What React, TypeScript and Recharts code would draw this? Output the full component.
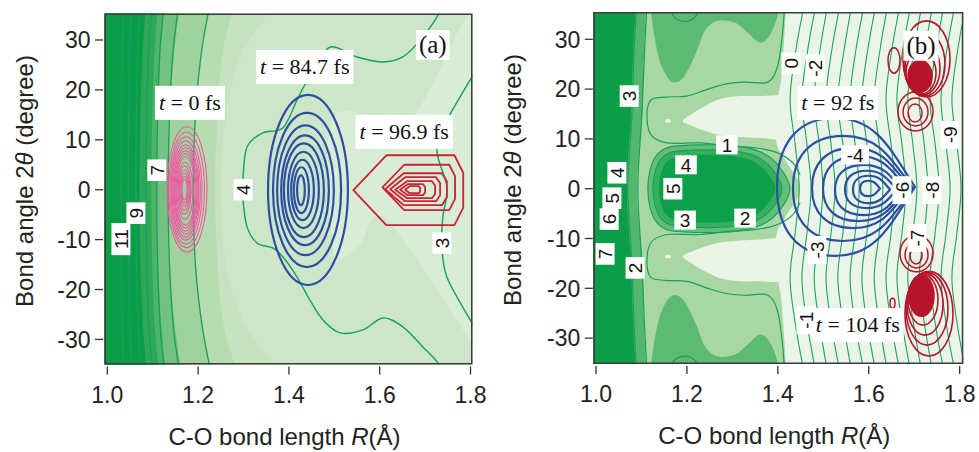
import React from "react";
import { ScatterChart, Scatter, XAxis, YAxis } from "recharts";

type XY = { x: number; y: number };

const SANS = '"Liberation Sans", Arial, Helvetica, sans-serif';
const SERIF = '"Liberation Serif", "Times New Roman", serif';
const INK = "#222";
const LINE_GREEN = "#17a15b";
const BLUE = "#2c4fa3";
const RED_A = "#cc2236";
const RED_B = "#b8142c";
const PINK = "#ef5aa0";

// axes
const R_TICKS = [1.0, 1.2, 1.4, 1.6, 1.8];
const THETA_TICKS = [-30, -20, -10, 0, 10, 20, 30];
// bond angles at which the near-vertical contours were read
const EDGE_THETA = [40, 28, 15, 0, -15, -28, -40];
const SIDE_THETA = [37, 28, 18, 9, 0, -9, -18, -28, -37];

// ---------- panel (a) ----------
// R of each filled level boundary at EDGE_THETA, outermost (lightest) first
const bandEdgesA = [
  [1.40, 1.30, 1.262, 1.25, 1.262, 1.31, 1.42],
  [1.29, 1.255, 1.243, 1.237, 1.243, 1.258, 1.3],
  [1.235, 1.21, 1.196, 1.192, 1.196, 1.212, 1.24],
  [1.165, 1.148, 1.138, 1.134, 1.138, 1.15, 1.17],
  [1.13, 1.118, 1.111, 1.109, 1.111, 1.12, 1.133],
  [1.115, 1.104, 1.099, 1.097, 1.099, 1.105, 1.118],
  [1.088, 1.078, 1.073, 1.071, 1.073, 1.079, 1.09],
];
const lightPatchA = [
  [1.497, 14.4], [1.667, 14.4], [1.821, 34.0], [1.821, -32.1], [1.803, -30.7],
  [1.616, -6.1], [1.557, -11.1], [1.519, -13.7], [1.497, -12.1],
];
// contour lines 11 .. 5 at EDGE_THETA
const levelLinesA = [
  [1.038, 1.033, 1.031, 1.03, 1.031, 1.033, 1.039],
  [1.055, 1.049, 1.047, 1.046, 1.047, 1.05, 1.056],
  [1.075, 1.067, 1.064, 1.063, 1.064, 1.068, 1.076],
  [1.102, 1.091, 1.087, 1.085, 1.087, 1.092, 1.104],
  [1.128, 1.116, 1.111, 1.109, 1.111, 1.117, 1.13],
  [1.162, 1.145, 1.137, 1.134, 1.137, 1.146, 1.165],
  [1.232, 1.208, 1.194, 1.189, 1.194, 1.21, 1.236],
];
const contour4A = [
  [1.735, 37], [1.726, 34.6], [1.689, 30.0], [1.651, 26.6], [1.607, 25.6], [1.55, 26.6],
  [1.491, 28.6], [1.457, 24.0], [1.435, 21.0], [1.418, 18.0], [1.387, 12.4], [1.343, 11.4],
  [1.308, 8.6], [1.299, 2.5], [1.299, -2.1], [1.308, -7.5], [1.33, -10.7], [1.365, -11.7],
  [1.387, -13.5], [1.418, -17.5], [1.446, -22.1], [1.475, -26.1], [1.513, -28.7],
  [1.563, -28.1], [1.607, -25.7], [1.651, -27.5], [1.695, -31.5], [1.728, -34.7], [1.737, -37],
];
const contour3A = [
  [1.815, 25], [1.803, 22.6], [1.748, 13.9], [1.726, 7.9], [1.748, 0.5], [1.739, -5.5],
  [1.737, -10.7], [1.748, -17.5], [1.803, -26.7], [1.815, -29],
];
// wave-packet contours [R min, R max, theta min, theta max]
const pinkRingsA = [
  [1.1315, 1.2196, -12.5, 12.6], [1.135, 1.214, -11.6, 11.5], [1.138, 1.2086, -10.9, 10.6],
  [1.1405, 1.205, -10.1, 9.8], [1.1425, 1.202, -9.5, 9.0], [1.145, 1.2, -8.9, 8.4],
  [1.147, 1.1976, -8.3, 7.8], [1.149, 1.1955, -7.7, 7.2], [1.1513, 1.1932, -7.1, 6.6],
  [1.1535, 1.1888, -5.9, 5.5], [1.1557, 1.1844, -4.9, 4.8], [1.158, 1.182, -4.1, 4.0],
  [1.16, 1.18, -3.3, 3.3], [1.162, 1.178, -2.7, 2.7], [1.1645, 1.1755, -2.1, 2.1],
];
const blueRingsA = [
  [1.354, 1.53, -19.1, 19.0], [1.365, 1.515, -15.5, 15.4], [1.374, 1.499, -13.1, 12.9],
  [1.383, 1.488, -11.1, 10.9], [1.389, 1.477, -9.5, 9.3], [1.398, 1.466, -7.7, 7.6],
  [1.405, 1.455, -6.1, 6.0], [1.411, 1.444, -4.7, 4.5], [1.418, 1.435, -3.1, 2.9],
];
const redRingsA = [
  [1.542, 1.784, -7.1, 6.9], [1.606, 1.766, -4.1, 5.0], [1.612, 1.748, -3.1, 3.3],
  [1.623, 1.733, -2.3, 2.5], [1.634, 1.722, -1.7, 1.7], [1.645, 1.7, -1.1, 1.1],
  [1.656, 1.689, -0.7, 0.7],
];
const timeTagsA = [
  { x: 1.182, y: 17.4, t: "0" },
  { x: 1.435, y: 24.6, t: "84.7" },
  { x: 1.654, y: 11.6, t: "96.9" },
];
const levelTagsA = [
  { x: 1.109, y: 3.9, text: "7" },
  { x: 1.063, y: -4.7, text: "9" },
  { x: 1.03, y: -9.9, text: "11" },
  { x: 1.299, y: 0, text: "4" },
  { x: 1.737, y: -10.7, text: "3" },
];
const panelTagA = [{ x: 1.717, y: 29.0, text: "(a)" }];

// ---------- panel (b) ----------
const bandEdgesB = [
  [1.112, 1.106, 1.102, 1.09, 1.102, 1.106, 1.112],
  [1.09, 1.082, 1.077, 1.068, 1.077, 1.082, 1.09],
];
const middleLightB = [
  [1.42, 40], [1.414, 29.9], [1.407, 21.8], [1.4, 17.8], [1.396, 9.8], [1.416, 5.8], [1.449, 0],
  [1.416, -5.8], [1.396, -9.8], [1.4, -17.8], [1.407, -21.8], [1.414, -29.9], [1.42, -40],
];
const topFingerB = [
  [1.101, 38.9], [1.119, 35.9], [1.128, 30.9], [1.141, 25.4], [1.165, 21.6], [1.191, 22.2],
  [1.218, 26.8], [1.24, 31.7], [1.268, 33.7], [1.306, 33.3], [1.334, 31.3], [1.361, 29.3],
  [1.383, 30.9], [1.4, 34.9], [1.407, 38.9],
];
const bottomFingerB = [
  [1.101, -38.9], [1.119, -35.9], [1.128, -30.9], [1.141, -25.4], [1.165, -21.6], [1.191, -22.2],
  [1.218, -26.8], [1.24, -31.7], [1.268, -33.7], [1.306, -33.3], [1.334, -31.3], [1.361, -29.3],
  [1.383, -30.9], [1.4, -34.9], [1.407, -38.9],
];
const whiteTopB = [
  [1.191, 13.6], [1.211, 15.0], [1.24, 16.6], [1.273, 18.0], [1.317, 18.6], [1.361, 18.6],
  [1.405, 18.8], [1.449, 18.8], [1.449, 9.4], [1.405, 9.8], [1.361, 10.2], [1.317, 10.4],
  [1.273, 10.8], [1.24, 11.6], [1.211, 12.6],
];
const whiteBottomB = [
  [1.191, -13.6], [1.211, -15.0], [1.24, -16.6], [1.273, -18.0], [1.317, -18.6], [1.361, -18.6],
  [1.405, -18.8], [1.449, -18.8], [1.449, -9.4], [1.405, -9.8], [1.361, -10.2], [1.317, -10.4],
  [1.273, -10.8], [1.24, -11.6], [1.211, -12.6],
];
const whiteDotsB = [
  [1.152, 1.165, 13.2, 14.0],
  [1.152, 1.165, -14.0, -13.2],
];
const bulletOuterB = [
  [1.114, 0], [1.119, 3.8], [1.134, 6.8], [1.163, 8.4], [1.229, 8.8], [1.306, 8.6], [1.361, 7.4],
  [1.4, 4.8], [1.427, 0], [1.4, -4.8], [1.361, -7.4], [1.306, -8.6], [1.229, -8.8], [1.163, -8.4],
  [1.134, -6.8], [1.119, -3.8],
];
const bulletMidB = [
  [1.125, 0], [1.13, 3.4], [1.143, 6.0], [1.169, 7.4], [1.229, 7.8], [1.301, 7.6], [1.354, 6.4],
  [1.389, 3.8], [1.409, 0], [1.389, -3.8], [1.354, -6.4], [1.301, -7.6], [1.229, -7.8],
  [1.169, -7.4], [1.143, -6.0], [1.13, -3.4],
];
const bulletCoreB = [
  [1.139, 0], [1.143, 3.0], [1.154, 5.2], [1.178, 6.4], [1.229, 6.8], [1.295, 6.6], [1.343, 5.6],
  [1.374, 3.4], [1.394, 0], [1.374, -3.4], [1.343, -5.6], [1.295, -6.6], [1.229, -6.8],
  [1.178, -6.4], [1.154, -5.2], [1.143, -3.0],
];
const edgeLinesB = [
  [1.092, 1.084, 1.079, 1.07, 1.079, 1.084, 1.092],
  [1.114, 1.107, 1.101, 1.092, 1.101, 1.107, 1.114],
];
const contour1TopB = [
  [1.416, 38.9], [1.411, 31.9], [1.4, 24.8], [1.378, 21.4], [1.328, 21.4], [1.284, 21.0],
  [1.24, 19.8], [1.2, 18.6], [1.152, 18.4], [1.121, 17.8], [1.112, 14.8], [1.121, 10.8],
  [1.156, 9.2], [1.229, 9.2], [1.288, 8.6], [1.35, 8.2], [1.394, 7.4], [1.431, 5.4], [1.449, 2.8],
];
const contour1BottomB = [
  [1.416, -38.9], [1.411, -31.9], [1.4, -24.8], [1.378, -21.4], [1.328, -21.4], [1.284, -21.0],
  [1.24, -19.8], [1.2, -18.6], [1.152, -18.4], [1.121, -17.8], [1.112, -14.8], [1.121, -10.8],
  [1.156, -9.2], [1.229, -9.2], [1.288, -8.6], [1.35, -8.2], [1.394, -7.4], [1.431, -5.4], [1.449, -2.8],
];
const lobeTopB = [[1.16, 37], [1.172, 34.5], [1.196, 33.6], [1.218, 34.5], [1.23, 37]];
const lobeBottomB = [[1.16, -37], [1.172, -34.5], [1.196, -33.6], [1.218, -34.5], [1.23, -37]];
// negative-energy contours on the right, R at SIDE_THETA
const sideLinesB = [
  [1.458, 1.44, 1.427, 1.438, 1.447, 1.438, 1.427, 1.44, 1.458],
  [1.484, 1.466, 1.453, 1.464, 1.473, 1.464, 1.453, 1.466, 1.484],
  [1.51, 1.493, 1.48, 1.491, 1.499, 1.491, 1.48, 1.493, 1.51],
  [1.537, 1.519, 1.506, 1.517, 1.526, 1.517, 1.506, 1.519, 1.537],
  [1.563, 1.546, 1.532, 1.543, 1.552, 1.543, 1.532, 1.546, 1.563],
  [1.59, 1.572, 1.559, 1.57, 1.579, 1.57, 1.559, 1.572, 1.59],
  [1.616, 1.598, 1.585, 1.596, 1.605, 1.596, 1.585, 1.598, 1.616],
  [1.642, 1.625, 1.612, 1.623, 1.631, 1.623, 1.612, 1.625, 1.642],
  [1.669, 1.651, 1.638, 1.649, 1.658, 1.649, 1.638, 1.651, 1.669],
  [1.693, 1.675, 1.662, 1.673, 1.682, 1.673, 1.662, 1.675, 1.693],
  [1.717, 1.7, 1.686, 1.697, 1.706, 1.697, 1.686, 1.7, 1.717],
  [1.741, 1.724, 1.711, 1.722, 1.73, 1.722, 1.711, 1.724, 1.741],
  [1.766, 1.748, 1.735, 1.746, 1.755, 1.746, 1.735, 1.748, 1.766],
  [1.79, 1.772, 1.759, 1.77, 1.779, 1.77, 1.759, 1.772, 1.79],
  [1.814, 1.796, 1.783, 1.794, 1.803, 1.794, 1.783, 1.796, 1.814],
];
const blueRingsB = [
  [1.3982, 1.7019, -13.5, 14.2], [1.4334, 1.6975, -10.5, 10.6], [1.4752, 1.6909, -7.9, 8.2],
  [1.4994, 1.6843, -6.5, 6.6], [1.5258, 1.6754, -5.3, 4.8], [1.5478, 1.6622, -3.9, 3.6],
  [1.5654, 1.6468, -2.9, 2.6], [1.5808, 1.6248, -1.5, 1.6],
];
const redUpperB = [
  [1.6754, 1.7788, 18.4, 33.7], [1.6776, 1.7678, 18.6, 31.5], [1.6798, 1.7568, 18.8, 29.5],
  [1.682, 1.748, 19.0, 27.5], [1.6864, 1.7392, 19.4, 25.8], [1.6908, 1.7304, 19.8, 24.2],
];
const redLowerB = [
  [1.6798, 1.7854, -33.6, -16.6], [1.682, 1.7744, -31.4, -16.8], [1.6842, 1.7634, -29.4, -17.0],
  [1.6864, 1.7524, -27.4, -17.2], [1.6886, 1.7436, -25.6, -17.4], [1.6908, 1.7348, -24.0, -17.6],
];
const redSmallB = [
  [1.6644, 1.7415, 11.6, 19.4], [1.6755, 1.7305, 12.6, 18.2], [1.6865, 1.7173, 13.4, 17.0],
  [1.6424, 1.6688, 23.2, 28.3],
  [1.6688, 1.7415, -16.7, -9.3], [1.6799, 1.7305, -15.9, -10.7], [1.6909, 1.7173, -15.1, -11.9],
  [1.6468, 1.6578, -24.0, -22.0],
];
const timeTagsB = [
  { x: 1.532, y: 17.2, t: "92" },
  { x: 1.576, y: -27.4, t: "104" },
];
const levelTagsB = [
  { x: 1.073, y: 18.6, text: "3" },
  { x: 1.046, y: 3.2, text: "4" },
  { x: 1.035, y: -1.9, text: "5" },
  { x: 1.029, y: -6.1, text: "6" },
  { x: 1.02, y: -13.1, text: "7" },
  { x: 1.086, y: -15.9, text: "2" },
  { x: 1.169, y: 0, text: "5" },
  { x: 1.429, y: 25.2, text: "0" },
  { x: 1.482, y: 24.2, text: "-2" },
  { x: 1.673, y: -0.3, text: "-6" },
  { x: 1.739, y: -0.3, text: "-8" },
  { x: 1.779, y: 10.8, text: "-9" },
  { x: 1.486, y: -12.3, text: "-3" },
  { x: 1.706, y: -9.9, text: "-7" },
  { x: 1.462, y: -26.4, text: "-1" },
];
const uprightTagsB = [
  { x: 1.288, y: 8.8, text: "1" },
  { x: 1.198, y: 4.8, text: "4" },
  { x: 1.196, y: -6.3, text: "3" },
  { x: 1.328, y: -5.9, text: "2" },
  { x: 1.57, y: 6.8, text: "-4" },
];
const panelTagB = [{ x: 1.715, y: 28.7, text: "(b)" }];

// ---------- helpers ----------
const OUTSIDE = [[0.9, -45], [1.9, 45]];
const OUTSIDE_LEFT = [[0.9, -45], [0.9, 45]];

const toXY = (pairs: number[][]): XY[] => pairs.map(([x, y]) => ({ x, y }));
const edgeXY = (rs: number[], thetas: number[]): XY[] => rs.map((x, i) => ({ x, y: thetas[i] }));
const boxXY = (b: number[]): XY[] => [{ x: b[0], y: b[2] }, { x: b[1], y: b[3] }];

function spline(p: XY[], closed: boolean): string {
  const n = p.length;
  if (n < 2) return "";
  const at = (i: number) => (closed ? p[(i + n) % n] : p[Math.max(0, Math.min(n - 1, i))]);
  const f = (v: number) => v.toFixed(2);
  let d = `M${f(p[0].x)},${f(p[0].y)}`;
  const segs = closed ? n : n - 1;
  for (let i = 0; i < segs; i++) {
    const a = at(i - 1), b = at(i), c = at(i + 1), e = at(i + 2);
    d += `C${f(b.x + (c.x - a.x) / 6)},${f(b.y + (c.y - a.y) / 6)} ${f(c.x - (e.x - b.x) / 6)},${f(
      c.y - (e.y - b.y) / 6
    )} ${f(c.x)},${f(c.y)}`;
  }
  return closed ? d + "Z" : d;
}

const corners = (lp: any) => {
  const [a, b] = lp.points as XY[];
  return {
    L: Math.min(a.x, b.x),
    R: Math.max(a.x, b.x),
    T: Math.min(a.y, b.y),
    B: Math.max(a.y, b.y),
  };
};

const fillRect = (fill: string) => (lp: any) => {
  const { L, R, T, B } = corners(lp);
  return <rect x={L} y={T} width={R - L} height={B - T} fill={fill} />;
};
const frameRect = (lp: any) => {
  const { L, R, T, B } = corners(lp);
  return <rect x={L} y={T} width={R - L} height={B - T} fill="none" stroke="#3c3c3c" strokeWidth={3} />;
};
// smooth open curve, then straight back through the off-chart anchors
const fillEdge = (fill: string, anchors: number) => (lp: any) => {
  const pts: XY[] = lp.points;
  const k = pts.length - anchors;
  const d = spline(pts.slice(0, k), false) + pts.slice(k).map((q) => `L${q.x},${q.y}`).join("") + "Z";
  return <path d={d} fill={fill} />;
};
const fillBlob = (fill: string) => (lp: any) => <path d={spline(lp.points, true)} fill={fill} />;
const strokeCurve = (stroke: string, width: number, closed = false) => (lp: any) => (
  <path d={spline(lp.points, closed)} fill="none" stroke={stroke} strokeWidth={width} />
);
const ellipseRing = (stroke: string, width: number, fill = "none") => (lp: any) => {
  const { L, R, T, B } = corners(lp);
  return (
    <ellipse cx={(L + R) / 2} cy={(T + B) / 2} rx={(R - L) / 2} ry={(B - T) / 2} fill={fill} stroke={stroke} strokeWidth={width} />
  );
};
const hexRing = (stroke: string, width: number) => (lp: any) => {
  const { L, R, T, B } = corners(lp);
  const w = R - L, h = B - T, cy = (T + B) / 2;
  const p = [
    [L, cy], [L + 0.3 * w, T], [R - 0.08 * w, T], [R, cy - 0.25 * h],
    [R, cy + 0.25 * h], [R - 0.08 * w, B], [L + 0.3 * w, B],
  ];
  return <polygon points={p.map((q) => q.join(",")).join(" ")} fill="none" stroke={stroke} strokeWidth={width} strokeLinejoin="round" />;
};
const dropRing = (stroke: string, width: number) => (lp: any) => {
  const { L, R, T, B } = corners(lp);
  const w = R - L, cy = (T + B) / 2, hh = (B - T) / 2, xm = L + 0.42 * w;
  const d =
    `M${R},${cy} C${R - 0.18 * w},${cy - 0.55 * hh} ${L + 0.72 * w},${T} ${xm},${T} ` +
    `C${L + 0.14 * w},${T} ${L},${cy - 0.6 * hh} ${L},${cy} ` +
    `C${L},${cy + 0.6 * hh} ${L + 0.14 * w},${B} ${xm},${B} ` +
    `C${L + 0.72 * w},${B} ${R - 0.18 * w},${cy + 0.55 * hh} ${R},${cy} Z`;
  return <path d={d} fill="none" stroke={stroke} strokeWidth={width} strokeLinejoin="round" />;
};

const noShape = () => <g />;

const layer = (key: string, data: XY[], draw: (lp: any) => React.ReactElement) => (
  <Scatter key={key} data={data} line={draw} lineType="joint" shape={noShape} isAnimationActive={false} />
);

const sansWidth = (s: string) => [...s].reduce((w, c) => w + (c === "-" ? 0.333 : 0.556), 0);
const SERIF_W: Record<string, number> = { t: 0.278, " ": 0.25, "=": 0.564, ".": 0.25, f: 0.333, s: 0.389, "(": 0.333, ")": 0.333, a: 0.444, b: 0.5 };
const serifWidth = (s: string) => [...s].reduce((w, c) => w + (SERIF_W[c] ?? 0.5), 0);

function LevelTag({ cx, cy, text, upright }: { cx: number; cy: number; text: string; upright?: boolean }) {
  const fs = 19;
  const w = sansWidth(text) * fs + 11;
  const h = 19;
  return (
    <g transform={`translate(${cx},${cy})${upright ? "" : " rotate(-90)"}`}>
      <rect x={-w / 2} y={-h / 2} width={w} height={h} fill="#fff" />
      <text x={0} y={0} dy="0.36em" textAnchor="middle" fontSize={fs} fontFamily={SANS} fill="#111">
        {text}
      </text>
    </g>
  );
}

function TimeTag({ cx, cy, t }: { cx: number; cy: number; t: string }) {
  const fs = 22;
  const w = serifWidth(`t = ${t} fs`) * fs + 8;
  const h = 34;
  return (
    <g>
      <rect x={cx - w / 2} y={cy - h / 2} width={w} height={h} fill="#fff" />
      <text x={cx} y={cy} dy="0.33em" textAnchor="middle" fontSize={fs} fontFamily={SERIF} fill="#111">
        <tspan fontStyle="italic">t</tspan>
        {` = ${t} fs`}
      </text>
    </g>
  );
}

function PanelTag({ cx, cy, text }: { cx: number; cy: number; text: string }) {
  const fs = 25;
  const w = serifWidth(text) * fs + 6;
  const h = 30;
  return (
    <g>
      <rect x={cx - w / 2} y={cy - h / 2} width={w} height={h} fill="#fff" />
      <text x={cx} y={cy} dy="0.33em" textAnchor="middle" fontSize={fs} fontFamily={SERIF} fill="#111">
        {text}
      </text>
    </g>
  );
}

const levelTags = (key: string, data: any[], upright = false) => (
  <Scatter
    key={key}
    data={data}
    isAnimationActive={false}
    shape={(p: any) => <LevelTag cx={p.cx} cy={p.cy} text={p.payload.text} upright={upright} />}
  />
);
const timeTags = (key: string, data: any[]) => (
  <Scatter key={key} data={data} isAnimationActive={false} shape={(p: any) => <TimeTag cx={p.cx} cy={p.cy} t={p.payload.t} />} />
);
const panelTag = (key: string, data: any[]) => (
  <Scatter key={key} data={data} isAnimationActive={false} shape={(p: any) => <PanelTag cx={p.cx} cy={p.cy} text={p.payload.text} />} />
);

const XTick = (p: any) => (
  <g>
    <line x1={p.x} x2={p.x} y1={p.y - 8} y2={p.y} stroke="#333" strokeWidth={1.3} />
    <text x={p.x} y={p.y + 28} textAnchor="middle" fontSize={23} fontFamily={SANS} fill={INK}>
      {Number(p.payload.value).toFixed(1)}
    </text>
  </g>
);
const YTick = (p: any) => (
  <g>
    <line x1={p.x + 4.5} x2={p.x + 12.5} y1={p.y} y2={p.y} stroke="#333" strokeWidth={1.3} />
    <text x={p.x} y={p.y} dy="0.36em" textAnchor="end" fontSize={23} fontFamily={SANS} fill={INK}>
      {p.payload.value}
    </text>
  </g>
);
const XTitle = (p: any) => {
  const vb = p.viewBox;
  return (
    <text x={vb.x + vb.width / 2 - 4} y={vb.y + 80} textAnchor="middle" fontSize={24} fontFamily={SANS} fill={INK}>
      C-O bond length <tspan fontStyle="italic">R</tspan>(Å)
    </text>
  );
};
const YTitle = (p: any) => {
  const vb = p.viewBox;
  const x = vb.x + vb.width - 72;
  const y = vb.y + vb.height / 2 - 8;
  return (
    <text x={x} y={y} transform={`rotate(-90 ${x} ${y})`} textAnchor="middle" fontSize={24} fontFamily={SANS} fill={INK}>
      Bond angle 2<tspan fontStyle="italic">θ</tspan> (degree)
    </text>
  );
};

const BAND_COLORS_A = ["#c6e2c1", "#b7dcb2", "#9fd29d", "#74c283", "#4db468", "#2ca856", "#0b9c48"];
const BAND_COLORS_B = ["#55b76c", "#0b9d48"];

function PanelA() {
  const xDomain = [0.9938, 1.8044];
  const yDomain = [-35.03, 35.31];
  return (
    <ScatterChart width={490} height={452} margin={{ top: 13.5, right: 17.5, bottom: 0, left: 0 }}>
      <XAxis type="number" dataKey="x" domain={xDomain} allowDataOverflow ticks={R_TICKS} interval={0}
        tickSize={0} tickMargin={10} tick={XTick} axisLine={false} height={87.5} label={XTitle} />
      <YAxis type="number" dataKey="y" domain={yDomain} allowDataOverflow ticks={THETA_TICKS} interval={0}
        tickSize={0} tickMargin={14} tick={YTick} axisLine={false} width={104.5} label={YTitle} />
      {layer("baseA", toXY(OUTSIDE), fillRect("#cde6c9"))}
      {layer("lightA", toXY(lightPatchA), fillBlob("#d9ecd5"))}
      {bandEdgesA.map((e, i) =>
        layer(`bandA${i}`, [...edgeXY(e, EDGE_THETA), ...toXY(OUTSIDE_LEFT)], fillEdge(BAND_COLORS_A[i], 2))
      )}
      {levelLinesA.map((e, i) => layer(`lvlA${i}`, edgeXY(e, EDGE_THETA), strokeCurve(LINE_GREEN, 1.3)))}
      {layer("c4A", toXY(contour4A), strokeCurve(LINE_GREEN, 1.4))}
      {layer("c3A", toXY(contour3A), strokeCurve(LINE_GREEN, 1.4))}
      {pinkRingsA.map((b, i) => layer(`pinkA${i}`, boxXY(b), ellipseRing(PINK, 1.1)))}
      {blueRingsA.map((b, i) => layer(`blueA${i}`, boxXY(b), ellipseRing(BLUE, 2.2)))}
      {redRingsA.map((b, i) => layer(`redA${i}`, boxXY(b), hexRing(RED_A, 1.8)))}
      {timeTags("timesA", timeTagsA)}
      {levelTags("tagsA", levelTagsA)}
      {panelTag("panelA", panelTagA)}
      {layer("frameA", toXY([[xDomain[0], yDomain[0]], [xDomain[1], yDomain[1]]]), frameRect)}
    </ScatterChart>
  );
}

function PanelB() {
  const xDomain = [0.99406, 1.80806];
  const yDomain = [-35.2, 35.48];
  return (
    <ScatterChart width={489} height={452} margin={{ top: 12, right: 15.7, bottom: 0, left: 0 }}>
      <XAxis type="number" dataKey="x" domain={xDomain} allowDataOverflow ticks={R_TICKS} interval={0}
        tickSize={0} tickMargin={10} tick={XTick} axisLine={false} height={88} label={XTitle} />
      <YAxis type="number" dataKey="y" domain={yDomain} allowDataOverflow ticks={THETA_TICKS} interval={0}
        tickSize={0} tickMargin={13} tick={YTick} axisLine={false} width={103.3} label={YTitle} />
      {layer("baseB", toXY(OUTSIDE), fillRect("#eaf4e8"))}
      {layer("midB", [...toXY(middleLightB), ...toXY(OUTSIDE_LEFT)], fillEdge("#a8d7a4", 2))}
      {layer("fingerTopB", toXY(topFingerB), fillEdge("#5dba72", 0))}
      {layer("fingerBotB", toXY(bottomFingerB), fillEdge("#5dba72", 0))}
      {layer("whiteTopB", toXY(whiteTopB), fillBlob("#e9f4e7"))}
      {layer("whiteBotB", toXY(whiteBottomB), fillBlob("#e9f4e7"))}
      {whiteDotsB.map((b, i) => layer(`dotB${i}`, boxXY(b), ellipseRing("none", 0, "#e9f4e7")))}
      {layer("bulOutB", toXY(bulletOuterB), fillBlob("#62bd77"))}
      {layer("bulMidB", toXY(bulletMidB), fillBlob("#35ae5d"))}
      {layer("bulCoreB", toXY(bulletCoreB), fillBlob("#0e9f4a"))}
      {bandEdgesB.map((e, i) =>
        layer(`bandB${i}`, [...edgeXY(e, EDGE_THETA), ...toXY(OUTSIDE_LEFT)], fillEdge(BAND_COLORS_B[i], 2))
      )}
      {edgeLinesB.map((e, i) => layer(`edgeLB${i}`, edgeXY(e, EDGE_THETA), strokeCurve(LINE_GREEN, 1.2)))}
      {layer("c1TopB", toXY(contour1TopB), strokeCurve(LINE_GREEN, 1.2))}
      {layer("c1BotB", toXY(contour1BottomB), strokeCurve(LINE_GREEN, 1.2))}
      {layer("bulLineOutB", toXY(bulletOuterB), strokeCurve(LINE_GREEN, 1.1, true))}
      {layer("bulLineMidB", toXY(bulletMidB), strokeCurve(LINE_GREEN, 1.1, true))}
      {layer("lobeTopB", toXY(lobeTopB), strokeCurve(LINE_GREEN, 1.2))}
      {layer("lobeBotB", toXY(lobeBottomB), strokeCurve(LINE_GREEN, 1.2))}
      {sideLinesB.map((e, i) => layer(`sideB${i}`, edgeXY(e, SIDE_THETA), strokeCurve("#1ea45e", 1.1)))}
      {blueRingsB.map((b, i) => layer(`blueB${i}`, boxXY(b), dropRing(BLUE, 2.2)))}
      {redUpperB.map((b, i) => layer(`redUB${i}`, boxXY(b), ellipseRing(RED_B, 1.6, i >= 4 ? RED_B : "none")))}
      {redLowerB.map((b, i) => layer(`redLB${i}`, boxXY(b), ellipseRing(RED_B, 1.6, i >= 4 ? RED_B : "none")))}
      {redSmallB.map((b, i) => layer(`redSB${i}`, boxXY(b), ellipseRing(RED_B, 1.5)))}
      {timeTags("timesB", timeTagsB)}
      {levelTags("tagsB", levelTagsB)}
      {levelTags("tagsUpB", uprightTagsB, true)}
      {panelTag("panelB", panelTagB)}
      {layer("frameB", toXY([[xDomain[0], yDomain[0]], [xDomain[1], yDomain[1]]]), frameRect)}
    </ScatterChart>
  );
}

export default function App() {
  return (
    <div style={{ position: "absolute", left: 0, top: 0, width: 979, height: 452, background: "#fff", overflow: "hidden" }}>
      <div style={{ position: "absolute", left: 0, top: 0 }}>
        <PanelA />
      </div>
      <div style={{ position: "absolute", left: 490, top: 0 }}>
        <PanelB />
      </div>
    </div>
  );
}
